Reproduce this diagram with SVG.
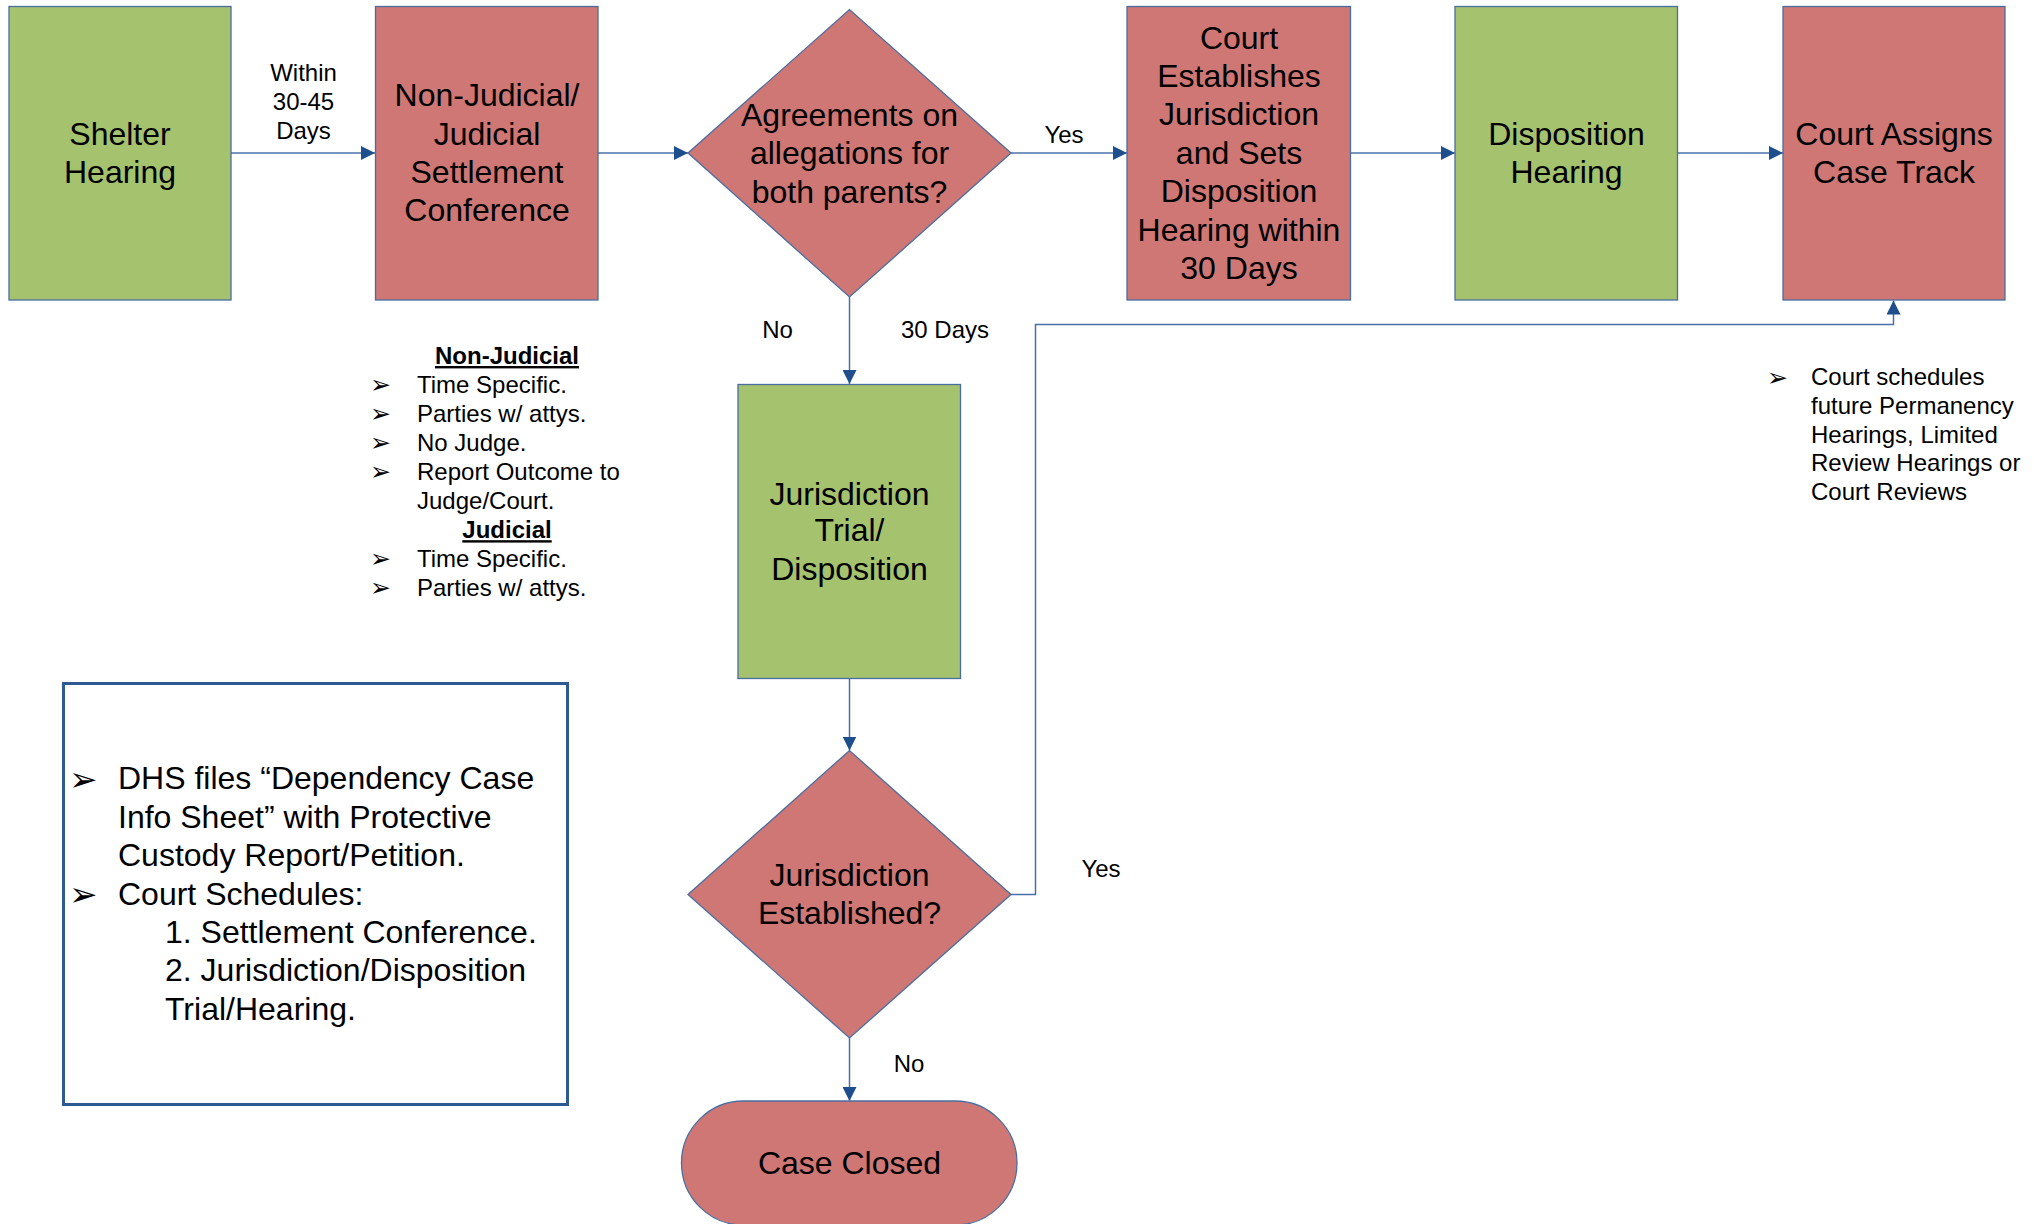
<svg xmlns="http://www.w3.org/2000/svg" width="2034" height="1224" viewBox="0 0 2034 1224">
<defs>
<style>
.g{fill:#A5C26E;stroke:#4A6DA0;stroke-width:1.3}
.r{fill:#CE7775;stroke:#4A6DA0;stroke-width:1.3}
.t{font-family:"Liberation Sans",Arial,sans-serif;font-size:32px;fill:#000;text-anchor:middle}
.tl{font-family:"Liberation Sans",Arial,sans-serif;font-size:32px;fill:#000;text-anchor:start}
.s{font-family:"Liberation Sans",Arial,sans-serif;font-size:24px;fill:#000}
.m{text-anchor:middle}
.b{font-family:"DejaVu Sans",sans-serif;font-size:25px;fill:#000}
.bb{font-family:"DejaVu Sans",sans-serif;font-size:34px;fill:#000}
.c{fill:none;stroke:#4870A8;stroke-width:1.5}
</style>
<marker id="ah" markerWidth="14" markerHeight="14" refX="14" refY="7" orient="auto" markerUnits="userSpaceOnUse">
<path d="M0,0 L14,7 L0,14 z" fill="#1F4E8C"/>
</marker>
</defs>
<rect width="2034" height="1224" fill="#fff"/>

<g id="connectors">
<path class="c" d="M231,153 H375" marker-end="url(#ah)"/>
<path class="c" d="M598,153 H688" marker-end="url(#ah)"/>
<path class="c" d="M1011,153 H1127" marker-end="url(#ah)"/>
<path class="c" d="M1351,153 H1455" marker-end="url(#ah)"/>
<path class="c" d="M1678,153 H1783" marker-end="url(#ah)"/>
<path class="c" d="M849.5,297 V384" marker-end="url(#ah)"/>
<path class="c" d="M849.5,678.5 V750.5" marker-end="url(#ah)"/>
<path class="c" d="M1011,894.5 H1035.5 V324.5 H1893.5 V300.5" marker-end="url(#ah)"/>
<path class="c" d="M849.5,1038 V1101" marker-end="url(#ah)"/>
<text class="s m" x="303.5" y="80.5">Within</text>
<text class="s m" x="303.5" y="109.5">30-45</text>
<text class="s m" x="303.5" y="139">Days</text>
<text class="s m" x="1064" y="143">Yes</text>
<text class="s m" x="777.5" y="338">No</text>
<text class="s m" x="945" y="338">30 Days</text>
<text class="s m" x="1101" y="877">Yes</text>
<text class="s m" x="909" y="1072">No</text>
</g>

<g id="shelter">
<rect class="g" x="9" y="6.5" width="222" height="293.5"/>
<text class="t" x="120" y="144.5">Shelter</text>
<text class="t" x="120" y="182.5">Hearing</text>
</g>

<g id="settlement">
<rect class="r" x="375.5" y="6.5" width="222.5" height="293.5"/>
<text class="t" x="487" y="106">Non-Judicial/</text>
<text class="t" x="487" y="144.5">Judicial</text>
<text class="t" x="487" y="183">Settlement</text>
<text class="t" x="487" y="221">Conference</text>
</g>

<g id="agreements">
<polygon class="r" points="688,153 849.5,9.5 1011,153 849.5,297"/>
<text class="t" x="849.5" y="126">Agreements on</text>
<text class="t" x="849.5" y="164">allegations for</text>
<text class="t" x="849.5" y="203">both parents?</text>
</g>

<g id="court-establishes">
<rect class="r" x="1127" y="6.5" width="223.5" height="293.5"/>
<text class="t" x="1239" y="48.5">Court</text>
<text class="t" x="1239" y="87">Establishes</text>
<text class="t" x="1239" y="125.4">Jurisdiction</text>
<text class="t" x="1239" y="163.8">and Sets</text>
<text class="t" x="1239" y="202.2">Disposition</text>
<text class="t" x="1239" y="240.6">Hearing within</text>
<text class="t" x="1239" y="279">30 Days</text>
</g>

<g id="disposition-hearing">
<rect class="g" x="1455" y="6.5" width="222.5" height="293.5"/>
<text class="t" x="1566.5" y="144.5">Disposition</text>
<text class="t" x="1566.5" y="182.5">Hearing</text>
</g>

<g id="case-track">
<rect class="r" x="1783" y="6.5" width="222" height="293.5"/>
<text class="t" x="1894" y="144.5">Court Assigns</text>
<text class="t" x="1894" y="182.5">Case Track</text>
</g>

<g id="case-track-notes">
<text class="b" x="1767" y="386">➢</text>
<text class="s" x="1811" y="385">Court schedules</text>
<text class="s" x="1811" y="413.8">future Permanency</text>
<text class="s" x="1811" y="442.6">Hearings, Limited</text>
<text class="s" x="1811" y="471.4">Review Hearings or</text>
<text class="s" x="1811" y="500.2">Court Reviews</text>
</g>

<g id="settlement-notes">
<text class="s m" x="507" y="364" font-weight="bold" text-decoration="underline">Non-Judicial</text>
<text class="b" x="370" y="393">➢</text>
<text class="s" x="417" y="393">Time Specific.</text>
<text class="b" x="370" y="422">➢</text>
<text class="s" x="417" y="422">Parties w/ attys.</text>
<text class="b" x="370" y="451">➢</text>
<text class="s" x="417" y="451.1">No Judge.</text>
<text class="b" x="370" y="480">➢</text>
<text class="s" x="417" y="480.2">Report Outcome to</text>
<text class="s" x="417" y="509.2">Judge/Court.</text>
<text class="s m" x="507" y="538.2" font-weight="bold" text-decoration="underline">Judicial</text>
<text class="b" x="370" y="567">➢</text>
<text class="s" x="417" y="567.3">Time Specific.</text>
<text class="b" x="370" y="596">➢</text>
<text class="s" x="417" y="596.3">Parties w/ attys.</text>
</g>

<g id="jurisdiction-trial">
<rect class="g" x="738" y="384.5" width="222.5" height="294"/>
<text class="t" x="849.5" y="504.5">Jurisdiction</text>
<text class="t" x="849.5" y="541">Trial/</text>
<text class="t" x="849.5" y="579.5">Disposition</text>
</g>

<g id="jurisdiction-established">
<polygon class="r" points="688,894.5 849.5,750.5 1011,894.5 849.5,1038"/>
<text class="t" x="849.5" y="885.5">Jurisdiction</text>
<text class="t" x="849.5" y="923.5">Established?</text>
</g>

<g id="case-closed">
<rect class="r" x="681.5" y="1101" width="335.5" height="124" rx="62" ry="62"/>
<text class="t" x="849.5" y="1174">Case Closed</text>
</g>

<g id="dhs-note">
<rect x="63.5" y="683.5" width="504" height="421" fill="#fff" stroke="#2E5A93" stroke-width="3"/>
<text class="bb" x="69" y="791">➢</text>
<text class="tl" x="118" y="789.3">DHS files “Dependency Case</text>
<text class="tl" x="118" y="827.7">Info Sheet” with Protective</text>
<text class="tl" x="118" y="866.1">Custody Report/Petition.</text>
<text class="bb" x="69" y="906">➢</text>
<text class="tl" x="118" y="904.5">Court Schedules:</text>
<text class="tl" x="165" y="942.9">1. Settlement Conference.</text>
<text class="tl" x="165" y="981.3">2. Jurisdiction/Disposition</text>
<text class="tl" x="165" y="1019.7">Trial/Hearing.</text>
</g>
</svg>
